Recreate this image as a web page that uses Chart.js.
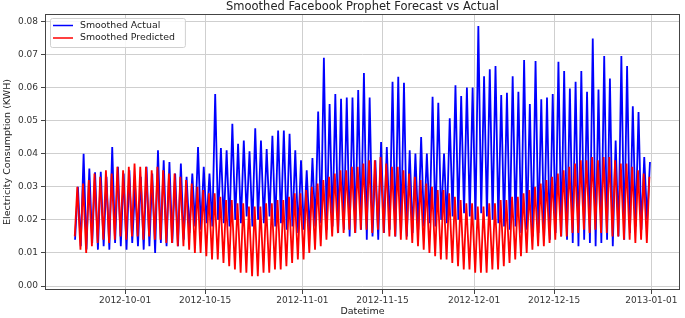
<!DOCTYPE html>
<html>
<head>
<meta charset="utf-8">
<script src="https://cdn.jsdelivr.net/npm/chart.js@4.4.1/dist/chart.umd.min.js"></script>
<style>
  html, body { margin: 0; padding: 0; background: #fff; }
  canvas { display: block; }
</style>
</head>
<body>
<canvas id="forecast_chart" width="685" height="318"></canvas>
<script>
// daily readings, first day is 2012-09-22
const startDate = '2012-09-22'
const tickDates = ['2012-10-01', '2012-10-15', '2012-11-01', '2012-11-15', '2012-12-01', '2012-12-15', '2013-01-01']
const yTicks = [0.00, 0.01, 0.02, 0.03, 0.04, 0.05, 0.06, 0.07, 0.08]

const actualHigh = [
    0.030, 0.040, 0.0355, 0.0344, 0.0345, 0.033, 0.042, 0.036, 0.034, 0.035,
    0.030, 0.033, 0.036, 0.034, 0.041, 0.038, 0.0375, 0.034, 0.037, 0.033,
    0.034, 0.042, 0.036, 0.034, 0.058, 0.0417, 0.041, 0.049, 0.043, 0.044,
    0.0407, 0.0477, 0.044, 0.0414, 0.0454, 0.047, 0.047, 0.046, 0.041, 0.038,
    0.035, 0.0387, 0.0527, 0.069, 0.055, 0.058, 0.0566, 0.057, 0.057, 0.0592,
    0.0644, 0.057, 0.038, 0.0435, 0.042, 0.0617, 0.0632, 0.0614, 0.041, 0.040,
    0.045, 0.040, 0.0572, 0.0554, 0.040, 0.0507, 0.0607, 0.0574, 0.060, 0.060,
    0.0786, 0.0634, 0.0655, 0.0665, 0.0577, 0.0584, 0.0634, 0.0587, 0.0683, 0.055,
    0.068, 0.0564, 0.057, 0.058, 0.0678, 0.065, 0.0597, 0.0617, 0.065, 0.0587,
    0.0748, 0.0594, 0.0695, 0.0627, 0.044, 0.0695, 0.0665, 0.0543, 0.0526, 0.039,
    0.0375
]
const actualLow = [
    0.014, 0.012, 0.011, 0.013, 0.011, 0.012, 0.011, 0.013, 0.012, 0.011,
    0.013, 0.012, 0.011, 0.012, 0.010, 0.013, 0.012, 0.013, 0.012, 0.014,
    0.016, 0.018, 0.017, 0.019, 0.018, 0.020, 0.019, 0.018, 0.020, 0.019,
    0.021, 0.018, 0.020, 0.019, 0.021, 0.018, 0.019, 0.017, 0.018, 0.016,
    0.017, 0.016, 0.018, 0.019, 0.017, 0.018, 0.016, 0.017, 0.015, 0.016,
    0.017, 0.014, 0.015, 0.014, 0.016, 0.017, 0.015, 0.016, 0.015, 0.016,
    0.017, 0.018, 0.019, 0.018, 0.020, 0.019, 0.021, 0.020, 0.022, 0.021,
    0.020, 0.022, 0.021, 0.020, 0.019, 0.018, 0.017, 0.018, 0.016, 0.017,
    0.015, 0.016, 0.015, 0.014, 0.016, 0.015, 0.014, 0.013, 0.012, 0.014,
    0.013, 0.012, 0.013, 0.014, 0.012, 0.015, 0.014, 0.016, 0.018, 0.017,
    0.020
]
const predictedHigh = [
    0.030, 0.031, 0.032, 0.034, 0.033, 0.035, 0.034, 0.036, 0.035, 0.036,
    0.037, 0.036, 0.036, 0.035, 0.036, 0.035, 0.034, 0.034, 0.033, 0.032,
    0.031, 0.030, 0.029, 0.028, 0.028, 0.027, 0.026, 0.026, 0.025, 0.025,
    0.024, 0.024, 0.024, 0.025, 0.025, 0.026, 0.026, 0.027, 0.028, 0.028,
    0.029, 0.030, 0.031, 0.032, 0.033, 0.034, 0.035, 0.035, 0.036, 0.036,
    0.037, 0.038, 0.038, 0.039, 0.037, 0.036, 0.036, 0.035, 0.034, 0.033,
    0.032, 0.031, 0.030, 0.029, 0.029, 0.028, 0.027, 0.026, 0.025, 0.025,
    0.024, 0.024, 0.025, 0.025, 0.026, 0.026, 0.027, 0.027, 0.028, 0.029,
    0.030, 0.031, 0.032, 0.033, 0.034, 0.035, 0.036, 0.037, 0.038, 0.038,
    0.039, 0.038, 0.039, 0.039, 0.038, 0.037, 0.037, 0.036, 0.035, 0.034,
    0.033
]
const predictedLow = [
    0.015, 0.011, 0.010, 0.012, 0.013, 0.014, 0.013, 0.014, 0.015, 0.014,
    0.015, 0.015, 0.014, 0.015, 0.014, 0.014, 0.013, 0.013, 0.012, 0.012,
    0.011, 0.010, 0.010, 0.009, 0.008, 0.008, 0.007, 0.006, 0.005, 0.004,
    0.004, 0.003, 0.003, 0.004, 0.004, 0.005, 0.005, 0.006, 0.007, 0.008,
    0.008, 0.010, 0.011, 0.012, 0.014, 0.015, 0.016, 0.016, 0.017, 0.016,
    0.017, 0.017, 0.016, 0.017, 0.016, 0.015, 0.015, 0.014, 0.014, 0.013,
    0.012, 0.011, 0.010, 0.009, 0.008, 0.008, 0.007, 0.006, 0.005, 0.005,
    0.004, 0.004, 0.004, 0.005, 0.005, 0.006, 0.007, 0.008, 0.009, 0.010,
    0.011, 0.012, 0.012, 0.013, 0.014, 0.015, 0.015, 0.016, 0.016, 0.017,
    0.016, 0.017, 0.016, 0.016, 0.015, 0.015, 0.014, 0.014, 0.013, 0.014,
    0.013
]

const chartTitle = 'Smoothed Facebook Prophet Forecast vs Actual'
const font = '"DejaVu Sans", sans-serif'

const dayOffset = (date) => (Date.parse(date) - Date.parse(startDate)) / 86400000

// one low and one high reading per day
function dailyPoints(lows, highs, lowAt, highAt) {
    const points = []
    lows.forEach((low, day) => {
        points.push({ x: day + lowAt, y: low })
        points.push({ x: day + highAt, y: highs[day] })
    })
    return points
}

const frameTitleLegend = {
    id: 'frameTitleLegend',
    afterDraw(chart) {
        const { ctx, chartArea } = chart
        ctx.save()

        ctx.strokeStyle = '#444'
        ctx.lineWidth = 1
        ctx.strokeRect(chartArea.left + 0.5, chartArea.top + 0.5, chartArea.width - 1, chartArea.height - 1)

        ctx.fillStyle = '#222'
        ctx.font = '11.5px ' + font
        ctx.textAlign = 'center'
        ctx.textBaseline = 'middle'
        ctx.fillText(chartTitle, (chartArea.left + chartArea.right) / 2, 7)

        // legend box inside the plot, top left
        const boxX = chartArea.left + 5
        const boxY = chartArea.top + 4
        ctx.font = '9.4px ' + font
        const widest = Math.max(...chart.data.datasets.map(ds => ctx.measureText(ds.label).width))
        const boxW = 35 + widest + 5
        const boxH = 29
        ctx.fillStyle = 'rgba(255,255,255,0.85)'
        ctx.strokeStyle = '#d0d0d0'
        ctx.beginPath()
        ctx.roundRect(boxX + 0.5, boxY + 0.5, boxW, boxH, 2)
        ctx.fill()
        ctx.stroke()

        ctx.textAlign = 'left'
        chart.data.datasets.forEach((ds, i) => {
            const y = boxY + 7.5 + i * 12.5
            ctx.strokeStyle = ds.borderColor
            ctx.lineWidth = 1.5
            ctx.beginPath()
            ctx.moveTo(boxX + 3, y)
            ctx.lineTo(boxX + 23, y)
            ctx.stroke()
            ctx.fillStyle = '#222'
            ctx.fillText(ds.label, boxX + 30, y)
        })
        ctx.restore()
    }
}

document.addEventListener('DOMContentLoaded', () => {
    const canvas = document.querySelector('#forecast_chart')
    const ctx = canvas.getContext('2d')

    const data = {
        datasets: [{
            label: 'Smoothed Actual',
            data: dailyPoints(actualLow, actualHigh, 0.25, 0.75),
            borderColor: '#0000ff',
            borderWidth: 1.8,
            pointRadius: 0,
            tension: 0,
            order: 1
        }, {
            label: 'Smoothed Predicted',
            data: dailyPoints(predictedLow, predictedHigh, 0.2, 0.65),
            borderColor: '#ff0000',
            borderWidth: 1.8,
            pointRadius: 0,
            tension: 0,
            order: 0
        }]
    }

    const config = {
        type: 'line',
        data: data,
        plugins: [frameTitleLegend],
        options: {
            responsive: false,
            animation: false,
            layout: { padding: { top: 14, right: 5, left: 0, bottom: 0 } },
            plugins: {
                legend: { display: false },
                title: { display: false },
                tooltip: { enabled: false }
            },
            scales: {
                x: {
                    type: 'linear',
                    min: -5,
                    max: 106,
                    afterBuildTicks: (scale) => {
                        scale.ticks = tickDates.map(d => ({ value: dayOffset(d) }))
                    },
                    afterFit: (scale) => { scale.height = 28 },
                    ticks: {
                        callback: (value, index) => tickDates[index],
                        autoSkip: false,
                        maxRotation: 0,
                        padding: 1,
                        color: '#333',
                        font: { family: font, size: 9 }
                    },
                    grid: { color: '#cfcfcf', lineWidth: 1, tickLength: 4, tickColor: '#444' },
                    border: { display: false },
                    title: {
                        display: true,
                        text: 'Datetime',
                        color: '#222',
                        font: { family: font, size: 9.5 },
                        padding: { top: 0, bottom: 1 }
                    }
                },
                y: {
                    min: -0.0012,
                    max: 0.0822,
                    afterBuildTicks: (scale) => {
                        scale.ticks = yTicks.map(v => ({ value: v }))
                    },
                    afterFit: (scale) => { scale.width = 45 },
                    ticks: {
                        callback: (value) => value.toFixed(2),
                        padding: 3,
                        color: '#333',
                        font: { family: font, size: 9 }
                    },
                    grid: { color: '#cfcfcf', lineWidth: 1, tickLength: 4, tickColor: '#444' },
                    border: { display: false },
                    title: {
                        display: true,
                        text: 'Electricity Consumption (KWH)',
                        color: '#222',
                        font: { family: font, size: 9.5 },
                        padding: { top: 2, bottom: 0 }
                    }
                }
            }
        }
    }

    const forecastChart = new Chart(ctx, config)
})
</script>
</body>
</html>
